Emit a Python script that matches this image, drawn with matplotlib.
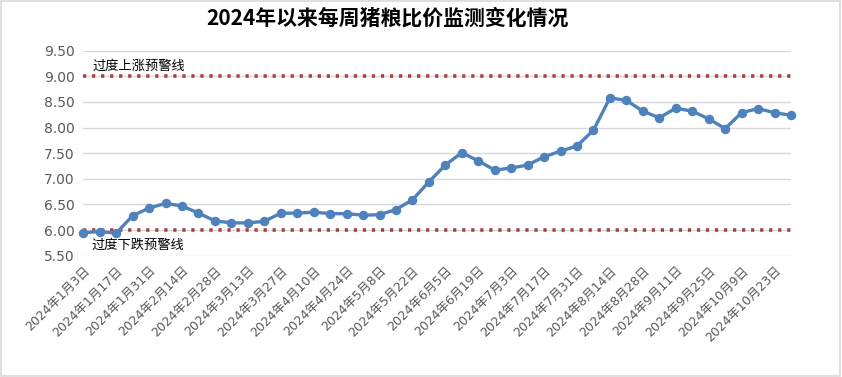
import matplotlib
matplotlib.use('Agg')
import matplotlib.pyplot as plt
from matplotlib.patches import Rectangle
import numpy as np
import pandas as pd

plt.rcParams['font.family'] = ['DejaVu Sans', 'Noto Sans CJK SC']

# Weekly pig/grain price ratio, 2024-01-03 .. 2024-10-30
dates = pd.date_range('2024-01-03', periods=44, freq='7D')
ratio = [5.95, 5.97, 5.94, 6.28, 6.43, 6.52, 6.47, 6.33, 6.18, 6.14,
         6.14, 6.17, 6.33, 6.33, 6.35, 6.32, 6.32, 6.29, 6.30, 6.40,
         6.59, 6.94, 7.27, 7.51, 7.35, 7.17, 7.21, 7.27, 7.43, 7.54,
         7.64, 7.95, 8.58, 8.53, 8.32, 8.19, 8.38, 8.32, 8.17, 7.98,
         8.29, 8.37, 8.29, 8.24]
upper_warn = 9.0
lower_warn = 6.0
yticks = [5.5, 6.0, 6.5, 7.0, 7.5, 8.0, 8.5, 9.0, 9.5]
tick_labels = ['{0}年{1}月{2}日'.format(d.year, d.month, d.day) for d in dates]

blue = '#4F81BD'
red = '#A9423F'
grey_txt = '#595959'

fig = plt.figure(figsize=(8.42, 3.77), dpi=100)
ax = fig.add_axes([0.0989, 0.3218, 0.9394 - 0.0989, 0.8655 - 0.3218])

x = np.arange(len(ratio))

# gridlines
for v in yticks[1:]:
    ax.axhline(v, color='#D9D9D9', lw=1.0, zorder=0)
ax.axhline(yticks[0], color='#BFBFBF', lw=1.0, ls=(0, (1, 2)), zorder=0)

# warning lines
ax.plot([x[0], x[-1]], [upper_warn, upper_warn], color=red, lw=2.6,
        ls=(0, (0.9, 1.6)), zorder=2)
ax.plot([x[0], x[-1]], [lower_warn, lower_warn], color=red, lw=2.6,
        ls=(0, (0.9, 1.6)), zorder=2)

ax.plot(x, ratio, color=blue, lw=2.4, marker='o', markersize=5.8,
        markerfacecolor=blue, markeredgecolor=blue, zorder=3, clip_on=False)

ax.text(0.55, upper_warn + 0.06, '过度上涨预警线', family=['Noto Sans CJK SC'],
        fontsize=9.5, color='black', va='bottom', ha='left')
ax.text(0.5, lower_warn - 0.17, '过度下跌预警线', family=['Noto Sans CJK SC'],
        fontsize=9.5, color='black', va='top', ha='left')

ax.set_xlim(0, len(ratio) - 1)
ax.set_ylim(5.5, 9.5)
ax.set_yticks(yticks)
ax.set_yticklabels(['{0:.2f}'.format(v) for v in yticks], color=grey_txt, fontsize=10)
ax.set_xticks(x[::2])
ax.set_xticklabels(tick_labels[::2], rotation=45, ha='right', rotation_mode='anchor',
                   color=grey_txt, fontsize=9)
ax.tick_params(axis='both', length=0, pad=6)
for s in ax.spines.values():
    s.set_visible(False)

fig.text(0.46, 0.952, '2024年以来每周猪粮比价监测变化情况', family=['Noto Sans CJK SC'],
         fontsize=15, fontweight='bold', ha='center', va='center')

fig.patches.append(Rectangle((0.001, 0.002), 0.997, 0.995, transform=fig.transFigure,
                             fill=False, edgecolor='#D9D9D9', lw=1.2))

fig.savefig('out.png', dpi=100)
